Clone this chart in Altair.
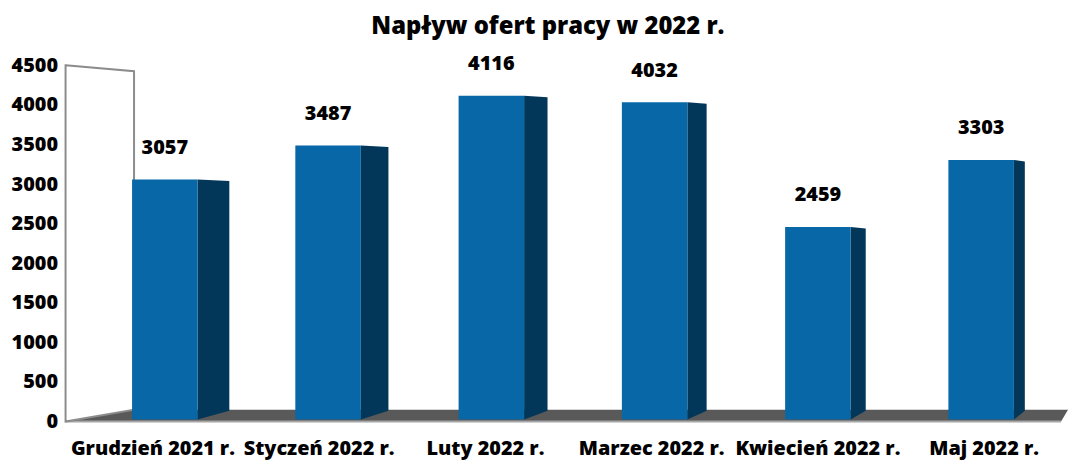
import altair as alt
import pandas as pd

# ---- data ----
categories = ["Grudzień 2021 r.", "Styczeń 2022 r.", "Luty 2022 r.",
              "Marzec 2022 r.", "Kwiecień 2022 r.", "Maj 2022 r."]
values = [3057, 3487, 4116, 4032, 2459, 3303]
y_ticks = [0, 500, 1000, 1500, 2000, 2500, 3000, 3500, 4000, 4500]
title_text = "Napływ ofert pracy w 2022 r."

# ---- layout / style constants (pixels) ----
W, H = 1010, 359
YMAX = 4500
STEP = 164.5          # px between bar centres
FIRST = 100           # px from plot left to first bar centre
HALF = 33             # half width of front face
FONT = "Open Sans"
WEIGHT = 800
FRONT = "#0767A7"
SIDE = "#03375A"
FLOOR = "#595959"


def ux(px):
    return (px - FIRST) / STEP


def vy(py):
    return (H - py) / H * YMAX


xs = alt.Scale(domain=[ux(0), ux(W)], nice=False, zero=False)
ys = alt.Scale(domain=[0, YMAX], nice=False, zero=False)
yaxis = alt.Axis(values=y_ticks, format="d", labelFont=FONT, labelFontWeight=WEIGHT,
                 labelFontSize=20, labelColor="black", domain=False, ticks=False,
                 grid=False, labelPadding=8, title=None, labelOverlap=False)

bars = pd.DataFrame({"cat": categories, "value": values, "i": range(len(values))})
bars["xl"] = bars["i"] - HALF / STEP
bars["xr"] = bars["i"] + HALF / STEP

side_rows = []
for i, v in enumerate(values):
    depth = 32 - 4.2 * i
    xr = i + HALF / STEP
    side_rows.append({"bar": i, "x": xr, "top": v, "bot": vy(357)})
    side_rows.append({"bar": i, "x": xr + depth / STEP, "top": v - vy(H - 1.5), "bot": vy(348)})
sides = pd.DataFrame(side_rows)

wall = pd.DataFrame({"x": [ux(0), ux(69)], "top": [YMAX, vy(6)], "bot": [0, vy(347)]})
floor = pd.DataFrame({"y": [vy(347), 0], "x": [ux(67), ux(0)], "x2": [ux(W), ux(1003)]})
floor_line = pd.DataFrame({"x": [ux(0)], "x2": [ux(1003)], "y": [0]})

floor_layer = alt.Chart(floor).mark_area(orient="horizontal", color=FLOOR).encode(
    y=alt.Y("y:Q", scale=ys, axis=yaxis),
    x=alt.X("x:Q", scale=xs, axis=None),
    x2="x2:Q",
)
floor_edge = alt.Chart(floor_line).mark_rule(color="#A6A6A6", strokeWidth=2).encode(
    x=alt.X("x:Q", scale=xs, axis=None), x2="x2:Q",
    y=alt.Y("y:Q", scale=ys, axis=yaxis),
)
wall_layer = alt.Chart(wall).mark_area(fill="white", stroke="#8C8C8C", strokeWidth=2).encode(
    x=alt.X("x:Q", scale=xs, axis=None),
    y=alt.Y("top:Q", scale=ys, axis=yaxis),
    y2="bot:Q",
)
side_layer = alt.Chart(sides).mark_area(color=SIDE).encode(
    x=alt.X("x:Q", scale=xs, axis=None),
    y=alt.Y("top:Q", scale=ys, axis=yaxis),
    y2="bot:Q",
    detail="bar:N",
)
front_layer = alt.Chart(bars).mark_rect(color=FRONT).encode(
    x=alt.X("xl:Q", scale=xs, axis=None),
    x2="xr:Q",
    y=alt.Y("value:Q", scale=ys, axis=yaxis),
    y2=alt.value(357),
)
value_labels = alt.Chart(bars).mark_text(
    font=FONT, fontWeight=WEIGHT, fontSize=20, color="black", dy=-32, baseline="middle"
).encode(
    x=alt.X("i:Q", scale=xs, axis=None),
    y=alt.Y("value:Q", scale=ys, axis=yaxis),
    text="value:Q",
)
bars_lab = bars.copy()
bars_lab["xlab"] = bars_lab["i"] + (-12 + 3 * bars_lab["i"]) / STEP
cat_labels = alt.Chart(bars_lab).mark_text(
    font=FONT, fontWeight=WEIGHT, fontSize=20, color="black", baseline="middle"
).encode(
    x=alt.X("xlab:Q", scale=xs, axis=None),
    y=alt.value(H + 28),
    text="cat:N",
)
title_layer = alt.Chart(pd.DataFrame({"t": [title_text]})).mark_text(
    font=FONT, fontWeight=WEIGHT, fontSize=24, color="black", baseline="middle"
).encode(x=alt.value(552 - 66), y=alt.value(25 - 64), text="t:N")

chart = alt.layer(
    floor_layer, floor_edge, wall_layer, side_layer, front_layer,
    value_labels, cat_labels, title_layer
).properties(
    width=W, height=H, autosize="none",
    padding={"left": 58, "top": 56, "right": 0, "bottom": 40},
).configure_view(stroke=None)

chart.save("out.html", embed_options={"renderer": "svg", "actions": False})
